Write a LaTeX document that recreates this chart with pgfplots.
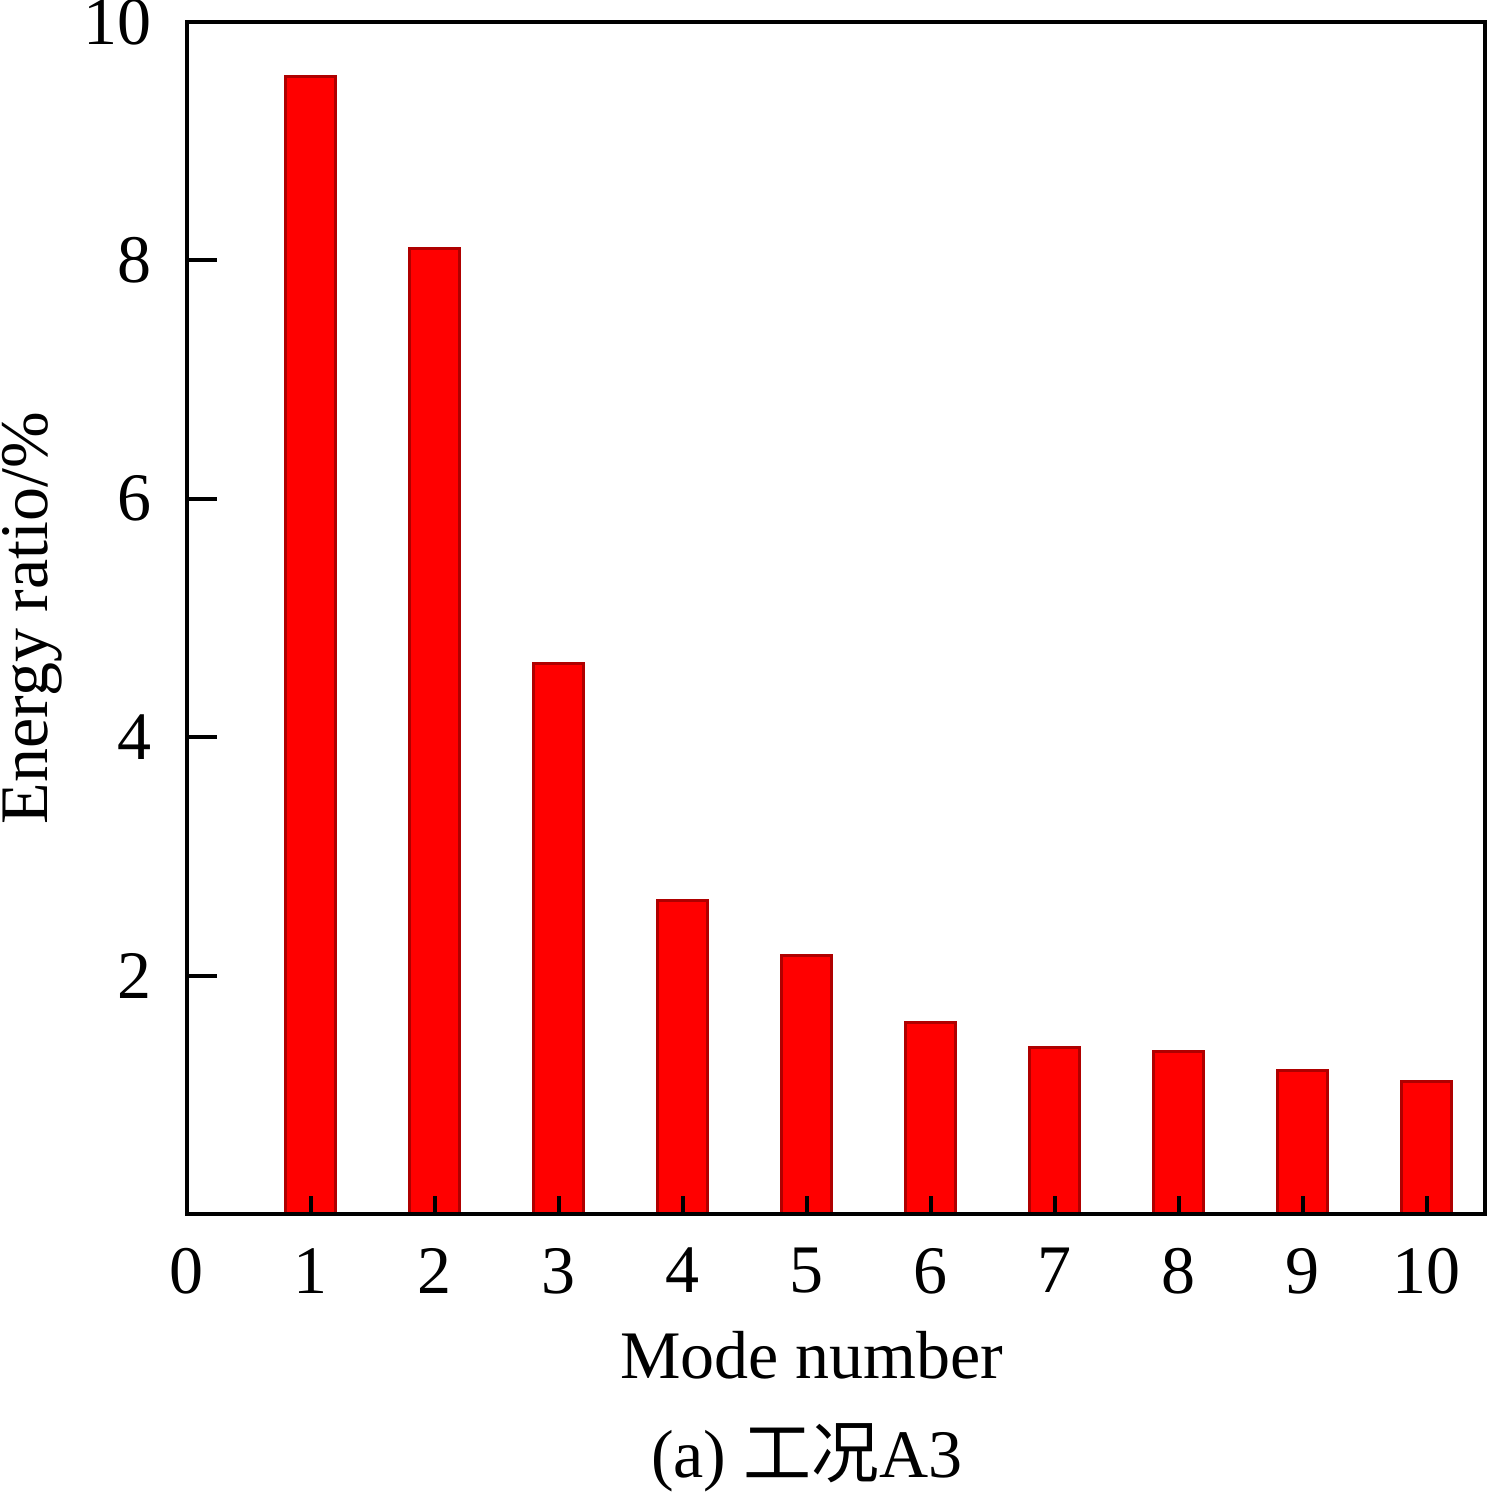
\documentclass[border=0pt]{standalone}
\usepackage{fontspec}
\setmainfont{Liberation Serif}
\newfontfamily\cjk{Noto Sans CJK SC}
\usepackage{pgfplots}
\pgfplotsset{compat=1.18}
\definecolor{bared}{RGB}{255,0,0}
\definecolor{baredge}{RGB}{175,0,0}
\begin{document}
\fontsize{13.6}{16}\selectfont
\begin{tikzpicture}
\begin{axis}[
  name=ax,
  at={(0,0)}, anchor=south west,
  scale only axis,
  width=259.6pt, height=238.4pt,
  xmin=0, xmax=10.47, ymin=0, ymax=10,
  xtick={0,1,2,3,4,5,6,7,8,9,10},
  ytick={2,4,6,8,10},
  tick align=inside,
  axis on top,
  axis line style={line width=0.8pt},
  every tick/.style={black, line width=0.8pt},
  xtick style={/pgfplots/major tick length=3.6pt},
  ytick style={/pgfplots/major tick length=6pt},
  x tick label style={yshift=-2.1pt},
  y tick label style={xshift=-2.3pt},
  /pgf/number format/assume math mode=true,
  tick label style={font=\fontsize{13.6}{16}\selectfont},
  xtick pos=bottom, ytick pos=left,
  clip=false,
]
\addplot[ybar, bar width=10pt, fill=bared, draw=baredge, line width=0.6pt] coordinates {
  (1,9.54) (2,8.10) (3,4.62) (4,2.63) (5,2.17)
  (6,1.61) (7,1.40) (8,1.36) (9,1.20) (10,1.11)
};
\coordinate (m) at (axis cs:5,0);
\end{axis}
\node[rotate=90, anchor=base, inner sep=0pt] at ([xshift=-27.8pt]ax.west) {Energy ratio/\%};
\node[anchor=base, inner sep=0pt] at ([yshift=-32.8pt, xshift=1pt]m) {Mode number};
\node[anchor=base, inner sep=0pt] at ([yshift=-52.6pt]m) {(a) {\cjk 工况}A3};
\pgfresetboundingbox
\path[use as bounding box] (-37.4pt,-55.6pt) rectangle (260.4pt,242.8pt);
\end{tikzpicture}
\end{document}
